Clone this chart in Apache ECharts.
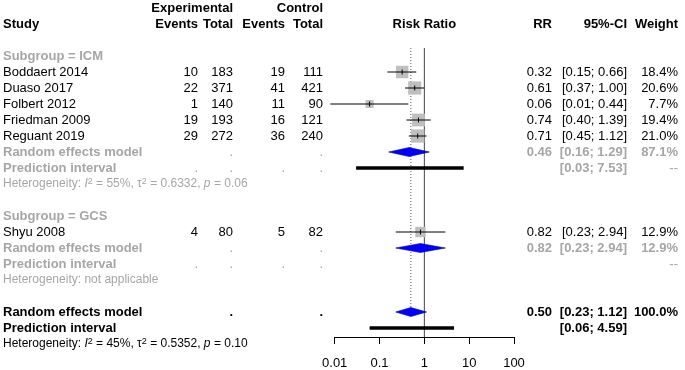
<!DOCTYPE html>
<html>
<head>
<meta charset="utf-8">
<title>Forest plot | Risk Ratio</title>
<script src="https://cdn.jsdelivr.net/npm/echarts@6/dist/echarts.min.js"></script>
</head>
<body style="margin:0">
<div id="main" style="width:685px;height:370px;"></div>
<script type="text/javascript">

// study level data
var studies    = ['Boddaert 2014', 'Duaso 2017', 'Folbert 2012', 'Friedman 2009', 'Reguant 2019', 'Shyu 2008'];
var studyGroup = ['ICM', 'ICM', 'ICM', 'ICM', 'ICM', 'GCS'];
var expEvents  = [10, 22, 1, 19, 29, 4];
var expTotal   = [183, 371, 140, 193, 272, 80];
var ctrlEvents = [19, 41, 11, 16, 36, 5];
var ctrlTotal  = [111, 421, 90, 121, 240, 82];
var rr         = [0.32, 0.61, 0.06, 0.74, 0.71, 0.82];
var ciLow      = [0.15, 0.37, 0.008, 0.40, 0.45, 0.23];
var ciHigh     = [0.66, 1.00, 0.44, 1.39, 1.12, 2.94];
var weight     = [18.4, 20.6, 7.7, 19.4, 21.0, 12.9];

// subgroup summaries
var subgroups  = ['ICM', 'GCS'];
var subRR      = [0.46, 0.82];
var subLow     = [0.16, 0.23];
var subHigh    = [1.29, 2.94];
var subWeight  = [87.1, 12.9];
var subPiLow   = [0.03, null];
var subPiHigh  = [7.53, null];
var subHet     = ['Heterogeneity: {it|I}{sup|2} = 55%, τ{sup|2} = 0.6332, {it|p} = 0.06', 'Heterogeneity: not applicable'];

// overall
var allRR = 0.50, allLow = 0.23, allHigh = 1.12, allPiLow = 0.06, allPiHigh = 4.59;
var allHet = 'Heterogeneity: {it|I}{sup|2} = 45%, τ{sup|2} = 0.5352, {it|p} = 0.10';

var tickValues = [0.01, 0.1, 1, 10, 100];
var tickLabels = ['0.01', '0.1', '1', '10', '100'];

// column positions (px, right edge unless left)
var colStudy = 3, colEE = 198, colET = 233, colCE = 285, colCT = 323;
var colRR = 552, colCI = 627, colW = 678;
var GREY = '#a6a6a6';
var FONT = 'Liberation Sans, Arial, sans-serif';

function f2(v) { return v.toFixed(2); }
function ci(a, b) { return '[' + f2(a) + '; ' + f2(b) + ']'; }

var cells = [];
function add(x, row, text, o) {
    o = o || {};
    cells.push({x: x, row: row, text: text, align: o.align || 'right',
        bold: !!o.bold, color: o.color || '#000', size: o.size || 13, rich: !!o.rich});
}

// headers
add(colET, 0, 'Experimental', {bold: true});
add(colCT, 0, 'Control', {bold: true});
add(colStudy, 1, 'Study', {bold: true, align: 'left'});
add(colEE, 1, 'Events', {bold: true});
add(colET, 1, 'Total', {bold: true});
add(colCE, 1, 'Events', {bold: true});
add(colCT, 1, 'Total', {bold: true});
add(colRR, 1, 'RR', {bold: true});
add(colCI, 1, '95%-CI', {bold: true});
add(colW, 1, 'Weight', {bold: true});

var studyRows = [], subRows = [], subPiRows = [];
var row = 3;
subgroups.forEach(function (g, k) {
    add(colStudy, row, 'Subgroup = ' + g, {bold: true, align: 'left', color: GREY});
    row++;
    studies.forEach(function (s, i) {
        if (studyGroup[i] !== g) return;
        studyRows[i] = row;
        add(colStudy, row, s, {align: 'left'});
        add(colEE, row, String(expEvents[i]));
        add(colET, row, String(expTotal[i]));
        add(colCE, row, String(ctrlEvents[i]));
        add(colCT, row, String(ctrlTotal[i]));
        add(colRR, row, f2(rr[i]));
        add(colCI, row, ci(ciLow[i], ciHigh[i]));
        add(colW, row, weight[i].toFixed(1) + '%');
        row++;
    });
    subRows[k] = row;
    add(colStudy, row, 'Random effects model', {bold: true, align: 'left', color: GREY});
    add(colET, row, '.', {color: GREY});
    add(colCT, row, '.', {color: GREY});
    add(colRR, row, f2(subRR[k]), {bold: true, color: GREY});
    add(colCI, row, ci(subLow[k], subHigh[k]), {bold: true, color: GREY});
    add(colW, row, subWeight[k].toFixed(1) + '%', {bold: true, color: GREY});
    row++;
    subPiRows[k] = row;
    add(colStudy, row, 'Prediction interval', {bold: true, align: 'left', color: GREY});
    [colEE, colET, colCE, colCT].forEach(function (c) { add(c, row, '.', {color: GREY}); });
    if (subPiLow[k] != null) add(colCI, row, ci(subPiLow[k], subPiHigh[k]), {bold: true, color: GREY});
    add(colW, row, '--', {color: GREY});
    row++;
    add(colStudy, row, subHet[k], {align: 'left', color: GREY, size: 12, rich: true});
    row += 2;
});
var allRow = row;
add(colStudy, row, 'Random effects model', {bold: true, align: 'left'});
add(colET, row, '.', {bold: true});
add(colCT, row, '.', {bold: true});
add(colRR, row, f2(allRR), {bold: true});
add(colCI, row, ci(allLow, allHigh), {bold: true});
add(colW, row, '100.0%', {bold: true});
var allPiRow = row + 1;
add(colStudy, allPiRow, 'Prediction interval', {bold: true, align: 'left'});
add(colCI, allPiRow, ci(allPiLow, allPiHigh), {bold: true});
add(colStudy, row + 2, allHet, {align: 'left', size: 12, rich: true});

var axisRow = 20.5625;

var myChart = echarts.init(document.getElementById('main'));

function textItem(params, api) {
    var c = cells[api.value(0)];
    var p = api.coord([c.x, c.row]);
    return {
        type: 'text',
        style: {
            x: p[0], y: p[1], text: c.text,
            align: c.align, verticalAlign: 'middle',
            textAlign: c.align, textVerticalAlign: 'middle',
            fontFamily: FONT, fontSize: c.size, fontWeight: c.bold ? 'bold' : 'normal',
            fill: c.color,
            rich: c.rich ? {
                it: {fontStyle: 'italic', fontSize: c.size, fontFamily: FONT, fill: c.color},
                sup: {fontSize: 9, verticalAlign: 'top', fontFamily: FONT, fill: c.color, padding: [0, 0, 5, 0]}
            } : undefined
        }
    };
}

function studyItem(params, api) {
    var i = params.dataIndex;
    var c = api.coord([rr[i], studyRows[i]]);
    var a = api.coord([ciLow[i], studyRows[i]]);
    var b = api.coord([ciHigh[i], studyRows[i]]);
    var s = 2.9 * Math.sqrt(weight[i]);
    return {type: 'group', children: [
        {type: 'rect', shape: {x: c[0] - s / 2, y: c[1] - s / 2, width: s, height: s},
            style: {fill: '#bfbfbf'}},
        {type: 'line', shape: {x1: a[0], y1: a[1], x2: b[0], y2: b[1]},
            style: {stroke: '#000', lineWidth: 1}},
        {type: 'line', shape: {x1: c[0], y1: c[1] - 2.5, x2: c[0], y2: c[1] + 2.5},
            style: {stroke: '#000', lineWidth: 1}}
    ]};
}

function diamond(api, est, lo, hi, r) {
    var c = api.coord([est, r]), a = api.coord([lo, r]), b = api.coord([hi, r]);
    return {type: 'polygon', shape: {points: [[a[0], c[1]], [c[0], c[1] - 4.5], [b[0], c[1]], [c[0], c[1] + 4.5]]},
        style: {fill: '#0000ff', stroke: '#00008b', lineWidth: 0.6}};
}
function piBar(api, lo, hi, r) {
    var a = api.coord([lo, r]), b = api.coord([hi, r]);
    return {type: 'line', shape: {x1: a[0], y1: a[1], x2: b[0], y2: b[1]},
        style: {stroke: '#000', lineWidth: 3.5}};
}

function summaryItem(params, api) {
    var ch = [];
    // reference lines
    var t1 = api.coord([1, 2.5]), b1 = api.coord([1, axisRow]);
    ch.push({type: 'line', shape: {x1: t1[0], y1: t1[1], x2: b1[0], y2: b1[1]}, style: {stroke: '#444', lineWidth: 1}});
    var t2 = api.coord([allRR, 2.5]), b2 = api.coord([allRR, allRow]);
    ch.push({type: 'line', shape: {x1: t2[0], y1: t2[1], x2: b2[0], y2: b2[1] - 4.5},
        style: {stroke: '#555', lineWidth: 1, lineDash: [1, 2]}});
    subgroups.forEach(function (g, k) {
        ch.push(diamond(api, subRR[k], subLow[k], subHigh[k], subRows[k]));
        if (subPiLow[k] != null) ch.push(piBar(api, subPiLow[k], subPiHigh[k], subPiRows[k]));
    });
    ch.push(diamond(api, allRR, allLow, allHigh, allRow));
    ch.push(piBar(api, allPiLow, allPiHigh, allPiRow));
    return {type: 'group', children: ch};
}

var option = {
    animation: false,
    grid: [
        {left: 0, right: 0, top: 0, height: 370},
        {left: 334.7, width: 179.3, top: 0, height: 337}
    ],
    xAxis: [
        {gridIndex: 0, type: 'value', min: 0, max: 685, show: false},
        {gridIndex: 1, type: 'log', logBase: 10, min: 0.01, max: 100, position: 'bottom', show: true,
            axisLine: {show: true, onZero: false, lineStyle: {color: '#000', width: 1}},
            axisTick: {show: true, length: 7, lineStyle: {color: '#000', width: 1}},
            splitLine: {show: false},
            axisLabel: {color: '#000', fontSize: 13, fontFamily: FONT, margin: 20,
                formatter: function (v) {
                    for (var i = 0; i < tickValues.length; i++) {
                        if (Math.abs(Math.log10(v) - Math.log10(tickValues[i])) < 1e-6) return tickLabels[i];
                    }
                    return '';
                }}}
    ],
    yAxis: [
        {gridIndex: 0, type: 'value', min: -0.5, max: 22.625, inverse: true, show: false},
        {gridIndex: 1, type: 'value', min: -0.5, max: axisRow, inverse: true, show: false}
    ],
    series: [
        {type: 'custom', xAxisIndex: 1, yAxisIndex: 1, clip: false, silent: true,
            data: [[1, 0]], renderItem: summaryItem},
        {type: 'custom', xAxisIndex: 1, yAxisIndex: 1, clip: false, silent: true,
            data: rr.map(function (v, i) { return [v, studyRows[i]]; }), renderItem: studyItem},
        {type: 'custom', xAxisIndex: 0, yAxisIndex: 0, clip: false, silent: true,
            data: cells.map(function (c, i) { return [i, c.row]; }), renderItem: textItem},
        // title over the plot column, centred on RR = 1
        {type: 'custom', xAxisIndex: 1, yAxisIndex: 1, clip: false, silent: true,
            data: [[1, 1]],
            renderItem: function (params, api) {
                var p = api.coord([1, 1]);
                return {type: 'text', style: {x: p[0], y: p[1], text: 'Risk Ratio',
                    align: 'center', verticalAlign: 'middle', textAlign: 'center', textVerticalAlign: 'middle',
                    fontFamily: FONT, fontSize: 13, fontWeight: 'bold', fill: '#000'}};
            }}
    ]
};

myChart.setOption(option);

</script>
</body>
</html>
